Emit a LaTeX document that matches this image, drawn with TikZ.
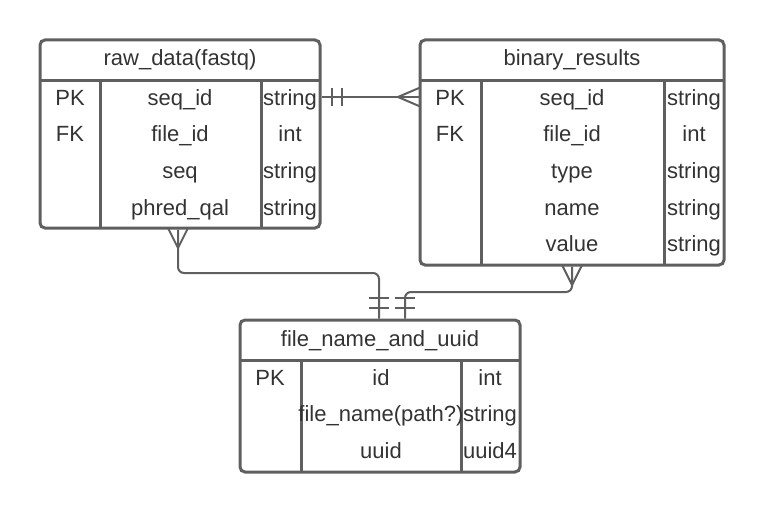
\documentclass[tikz,border=0pt]{standalone}
\usepackage{fontspec}
\setmainfont{Liberation Sans}
\usetikzlibrary{positioning}
\definecolor{linegray}{HTML}{5F5F5F}
\definecolor{textgray}{HTML}{333333}

\begin{document}
\begin{tikzpicture}[x=1pt,y=-1pt,
	tbl/.style={draw=linegray, line width=3pt, rounded corners=5pt, inner sep=0pt},
	rule/.style={draw=linegray, line width=3pt},
	conn/.style={draw=linegray, line width=2pt},
	cell/.style={text=textgray, font=\fontsize{22}{26}\selectfont, inner sep=0pt, text height=16pt, text depth=0pt}]
	\useasboundingbox (0,0) rectangle (765,511);
	\node[tbl, minimum width=280pt, minimum height=188pt] (raw) at (180,134) {};
	\node[tbl, minimum width=304pt, minimum height=225pt] (bin) at (572,152.5) {};
	\node[tbl, minimum width=280pt, minimum height=152pt] (file) at (380,396) {};
	\draw[rule] (40,80) -- (320,80);
	\draw[rule] (100,80) -- (100,228);
	\draw[rule] (261,80) -- (261,228);
	\draw[rule] (420,80) -- (724,80);
	\draw[rule] (481,80) -- (481,265);
	\draw[rule] (664,80) -- (664,265);
	\draw[rule] (240,360) -- (520,360);
	\draw[rule] (301,360) -- (301,472);
	\draw[rule] (461,360) -- (461,472);
	% raw_data(fastq)
	\node[cell] (rh) at (180,58) {raw\_data(fastq)};
	\node[cell] (rk1) at (70,97) {PK};
	\node[cell] (rk2) at (70,133) {FK};
	\node[cell] (rn1) at (180,97) {seq\_id};
	\node[cell] (rn2) at (180,133) {file\_id};
	\node[cell] (rn3) at (180,170) {seq};
	\node[cell] (rn4) at (180,207) {phred\_qal};
	\node[cell] (rt1) at (290,97) {string};
	\node[cell] (rt2) at (290,133) {int};
	\node[cell] (rt3) at (290,170) {string};
	\node[cell] (rt4) at (290,207) {string};
	% binary_results
	\node[cell] (bh) at (572,58) {binary\_results};
	\node[cell] (bk1) at (450,97) {PK};
	\node[cell] (bk2) at (450,133) {FK};
	\node[cell] (bn1) at (572,97) {seq\_id};
	\node[cell] (bn2) at (572,133) {file\_id};
	\node[cell] (bn3) at (572,170) {type};
	\node[cell] (bn4) at (572,207) {name};
	\node[cell] (bn5) at (572,243) {value};
	\node[cell] (bt1) at (694,97) {string};
	\node[cell] (bt2) at (694,133) {int};
	\node[cell] (bt3) at (694,170) {string};
	\node[cell] (bt4) at (694,207) {string};
	\node[cell] (bt5) at (694,243) {string};
	% file_name_and_uuid
	\node[cell] (fh) at (380,338) {file\_name\_and\_uuid};
	\node[cell] (fk1) at (270,377) {PK};
	\node[cell] (fn1) at (381,377) {id};
	\node[cell] (fn2) at (381,413) {file\_name(path?)};
	\node[cell] (fn3) at (381,450) {uuid};
	\node[cell] (ft1) at (490,377) {int};
	\node[cell] (ft2) at (490,413) {string};
	\node[cell] (ft3) at (490,450) {uuid4};
	% relations
	\coordinate (c1) at (178,273);
	\coordinate (c2) at (379,273);
	\coordinate (c3) at (572,292);
	\coordinate (c4) at (405,292);
	\draw[conn] (raw.east |- rt1) -- (bin.west |- bk1);
	\draw[conn] (332,88) -- (332,106);
	\draw[conn] (342,88) -- (342,106);
	\draw[conn] (419,88) -- (398,97) -- (419,106);
	\draw[conn, rounded corners=6pt] (raw.south -| c1) -- (c1) -- (c2) -- (file.north -| c2);
	\draw[conn] (168,228) -- (178,248) -- (188,228);
	\draw[conn] (369,298) -- (389,298);
	\draw[conn] (369,308) -- (389,308);
	\draw[conn, rounded corners=6pt] (bin.south -| c3) -- (c3) -- (c4) -- (file.north -| c4);
	\draw[conn] (562,265) -- (572,285) -- (582,265);
	\draw[conn] (395,298) -- (415,298);
	\draw[conn] (395,308) -- (415,308);
\end{tikzpicture}
\end{document}
